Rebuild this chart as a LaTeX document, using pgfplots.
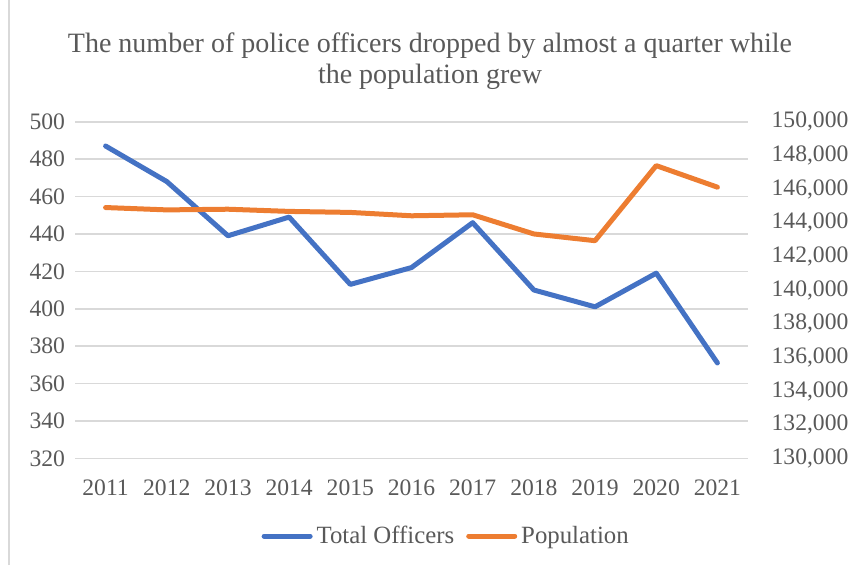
\documentclass[border=0pt]{standalone}
\usepackage{pgfplots}
\pgfplotsset{compat=1.18}
\usepackage{fontspec}
\setmainfont{Liberation Serif}
\definecolor{cblue}{HTML}{4472C4}
\definecolor{corange}{HTML}{ED7D31}
\definecolor{ctext}{HTML}{595959}
\definecolor{cgrid}{HTML}{D9D9D9}
\begin{document}
\begin{tikzpicture}
\useasboundingbox (0,0) rectangle (425.5pt,284.5pt);
\draw[cgrid, line width=0.7pt] (4.5pt,2pt) -- (4.5pt,284.5pt);
\node[align=center, text=ctext, font=\fontsize{14}{15.5}\selectfont] at (215pt,254pt) {The number of police officers dropped by almost a quarter while\\the population grew};
\begin{axis}[
  at={(37.5pt,55.35pt)}, anchor=south west,
  scale only axis, width=336.5pt, height=168.3pt,
  xmin=-0.5, xmax=10.5, ymin=320, ymax=500,
  xtick={0,...,10},
  xticklabels={2011,2012,2013,2014,2015,2016,2017,2018,2019,2020,2021},
  ytick={320,340,...,500},
  yticklabels={320,340,360,380,400,420,440,460,480,500},
  ymajorgrids, grid style={cgrid, line width=0.8pt},
  axis line style={draw=none}, tick style={draw=none},
  ticklabel style={text=ctext, font=\fontsize{11.8}{14}\selectfont},
  yticklabel style={xshift=-1.5pt},
  xticklabel style={yshift=-7pt},
  legend columns=2,
  legend style={at={(0.553,-0.231)}, anchor=center, draw=none, fill=none,
    font=\fontsize{12.4}{14}\selectfont, text=ctext,
    /tikz/every even column/.append style={column sep=4pt}},
  legend image code/.code={\draw[line width=2.5pt, line cap=round] (0pt,0pt) -- (23pt,0pt);},
]
\addplot[cblue, line width=2.5pt, line join=round, line cap=round] coordinates {
(0,487) (1,468) (2,439) (3,449) (4,413) (5,422) (6,446) (7,410) (8,401) (9,419) (10,371)};
\addlegendentry{Total Officers}
\addlegendimage{corange, line width=2.5pt}
\addlegendentry{Population}
\end{axis}
\begin{axis}[
  at={(37.5pt,55.35pt)}, anchor=south west,
  scale only axis, width=336.5pt, height=168.3pt,
  xmin=-0.5, xmax=10.5, ymin=130000, ymax=150000,
  axis x line=none, axis y line*=right,
  scaled y ticks=false,
  ytick={130000,132000,134000,136000,138000,140000,142000,144000,146000,148000,150000},
  yticklabels={{130,000},{132,000},{134,000},{136,000},{138,000},{140,000},{142,000},{144,000},{146,000},{148,000},{150,000}},
  axis line style={draw=none}, tick style={draw=none},
  ticklabel style={text=ctext, font=\fontsize{11.8}{14}\selectfont},
  yticklabel style={xshift=8.3pt},
]
\addplot[corange, line width=2.5pt, line join=round, line cap=round] coordinates {
(0,144900) (1,144760) (2,144800) (3,144670) (4,144610) (5,144410) (6,144470) (7,143330) (8,142930) (9,147390) (10,146110)};
\end{axis}
\end{tikzpicture}
\end{document}
